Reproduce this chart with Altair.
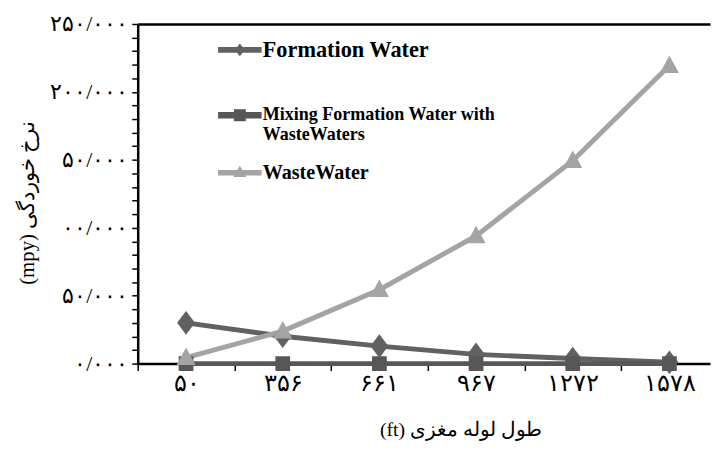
import altair as alt
import pandas as pd

# ---- data ----
x_index = [0, 1, 2, 3, 4, 5]
x_labels = ["۵۰", "۳۵۶", "۶۶۱", "۹۶۷", "۱۲۷۲", "۱۵۷۸"]
series_names = ["Formation Water", "Mixing Formation Water with WasteWaters", "WasteWater"]
legend_lines = [["Formation Water", ""], ["Mixing Formation Water with", "WasteWaters"], ["WasteWater"]]
formation_water = [30.0, 20.2, 12.9, 6.8, 3.7, 1.0]
mixing_water = [0.0, 0.0, 0.0, 0.0, 0.0, 0.0]
waste_water = [4.4, 23.9, 54.4, 94.0, 149.4, 219.4]
y_tick_values = [0, 50, 100, 150, 200, 250]
y_tick_labels = ["۰/۰۰۰", "۵۰/۰۰۰", "۰۰/۰۰۰", "۵۰/۰۰۰", "۲۰۰/۰۰۰", "۲۵۰/۰۰۰"]
x_title = "(ft) طول لوله مغزی"
y_title = "(mpy) نرخ خوردگی"

# ---- styles ----
series_colors = ["#616161", "#575757", "#a4a4a4"]
legend_font_sizes = [22.5, 18.2, 20.3]
marker_paths = [
    "M0,-1L0.75,0L0,1L-0.75,0Z",
    "M-0.62,-0.62L0.62,-0.62L0.62,0.62L-0.62,0.62Z",
    "M0,-0.85L0.8,0.62L-0.8,0.62Z",
]
# legend symbols (unit = 10px): a 44px line with the marker on it
legend_paths = [
    "M-2.2,-0.3L2.2,-0.3L2.2,0.3L-2.2,0.3Z M0,-0.65L0.5,0L0,0.65L-0.5,0Z",
    "M-2.2,-0.32L2.2,-0.32L2.2,0.32L-2.2,0.32Z M-0.6,-0.6L0.6,-0.6L0.6,0.6L-0.6,0.6Z",
    "M-2.2,-0.28L2.2,-0.28L2.2,0.28L-2.2,0.28Z M0,-0.7L0.65,0.45L-0.65,0.45Z",
]
FONT = "Liberation Serif"

rows = []
for name, vals in zip(series_names, [formation_water, mixing_water, waste_water]):
    for i, v in zip(x_index, vals):
        rows.append({"series": name, "idx": i, "value": v})
df = pd.DataFrame(rows)


def label_expr(values, labels):
    expr = "''"
    for v, l in reversed(list(zip(values, labels))):
        expr = f"datum.value == {v} ? '{l}' : {expr}"
    return expr


def legend_label_expr():
    expr = "datum.label"
    for name, parts in reversed(list(zip(series_names, legend_lines))):
        arr = "[" + ", ".join(f"'{p}'" for p in parts) + "]"
        expr = f"datum.label == '{name}' ? {arr} : {expr}"
    return expr


def legend_size_expr():
    expr = str(legend_font_sizes[-1])
    for name, s in reversed(list(zip(series_names[:-1], legend_font_sizes[:-1]))):
        expr = f"datum.label == '{name}' ? {s} : {expr}"
    return expr


x_scale = alt.Scale(domain=[-0.5, 5.42], nice=False, zero=False)
y_scale = alt.Scale(domain=[0, 250], nice=False, zero=True)
color_scale = alt.Scale(domain=series_names, range=series_colors)

x_tick_vals = [-0.5, 0, 0.5, 1, 1.5, 2, 2.5, 3, 3.5, 4, 4.5, 5]

x_axis_bottom = alt.Axis(
    orient="bottom", values=x_tick_vals, labelExpr=label_expr(x_index, x_labels),
    grid=False, tickSize=7, tickWidth=1.5, tickColor="black",
    tickOpacity={"condition": {"test": "datum.value % 1 != 0", "value": 1}, "value": 0},
    domainColor="black", domainWidth=2.5, labelFont=FONT, labelFontSize=24,
    labelColor="black", labelPadding=1, labelOverlap=False, labelFlush=False,
    title=x_title, titleFont=FONT, titleFontSize=20, titleFontWeight="normal",
    titleColor="black", titleX=326, titleY=67, titleBaseline="middle", titleAlign="center",
)
x_axis_top = alt.Axis(
    orient="top", labels=False, ticks=False, grid=False, domainColor="black",
    domainWidth=2.5, title=None,
)
y_axis = alt.Axis(
    orient="left", values=list(range(0, 251, 10)), labelExpr=label_expr(y_tick_values, y_tick_labels),
    grid=False, tickSize=6, tickWidth=1.5, tickColor="black", domainColor="black",
    domainWidth=2.5, labelFont=FONT, labelFontSize=22, labelColor="black",
    labelPadding=4, labelOverlap=False, labelFlush=False,
    title=y_title, titleFont=FONT, titleFontSize=21, titleFontWeight="normal",
    titleColor="black", titleX=-111, titleY=180, titleBaseline="middle", titleAlign="center",
    titleAngle=270,
)

base = alt.Chart(df)

lines = base.mark_line(strokeWidth=5).encode(
    x=alt.X("idx:Q", scale=x_scale, axis=x_axis_bottom),
    y=alt.Y("value:Q", scale=y_scale, axis=y_axis),
    color=alt.Color("series:N", scale=color_scale, legend=None),
)

points = base.mark_point(filled=True, opacity=1, size=576, strokeWidth=0).encode(
    x=alt.X("idx:Q", scale=x_scale, axis=x_axis_top),
    y=alt.Y("value:Q", scale=y_scale, axis=None),
    color=alt.Color("series:N", scale=color_scale, legend=None),
    shape=alt.Shape("series:N", scale=alt.Scale(domain=series_names, range=marker_paths), legend=None),
)

legend_layer = base.transform_filter("false").mark_point(filled=True, opacity=1).encode(
    x=alt.X("idx:Q", scale=x_scale, axis=None),
    y=alt.Y("value:Q", scale=y_scale, axis=None),
    color=alt.Color(
        "series:N", scale=color_scale,
        legend=alt.Legend(
            orient="none", legendX=93, legendY=16, title=None, padding=0,
            symbolSize=400, symbolStrokeWidth=0, symbolOpacity=1,
            labelFont=FONT, labelFontWeight="bold",
            labelFontSize=alt.ExprRef(legend_size_expr()), labelColor="black",
            labelLimit=500, labelOffset=13, rowPadding=19,
            labelExpr=legend_label_expr(),
        ),
    ),
    shape=alt.Shape("series:N", scale=alt.Scale(domain=series_names, range=legend_paths)),
)

chart = (
    alt.layer(lines, points, legend_layer)
    .resolve_scale(color="independent", shape="independent")
    .resolve_axis(x="independent", y="independent")
    .properties(
        width=578, height=343,
        autosize=alt.AutoSizeParams(type="none"),
        padding={"left": 131, "top": 14, "right": 2, "bottom": 76},
        background="white",
    )
    .configure_view(strokeWidth=0)
)

chart.save("out.html", embed_options={"renderer": "svg", "actions": False})
